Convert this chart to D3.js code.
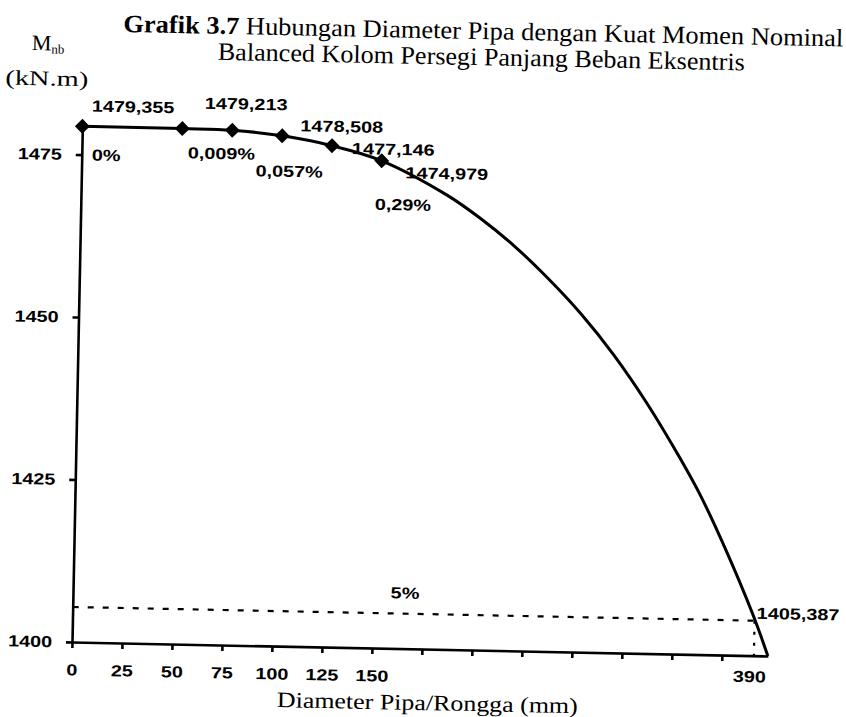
<!DOCTYPE html>
<html>
<head>
<meta charset="utf-8">
<script src="https://cdn.jsdelivr.net/npm/d3@7"></script>
<style>
body { margin: 0; background: #fff; }
.serif { font-family: "Liberation Serif", "Times New Roman", serif; fill: #000; }
.num { font-family: "Liberation Sans", Arial, sans-serif; font-weight: bold; font-size: 16px; fill: #000; }
.axis path, .axis line { stroke: #000; stroke-width: 2.6px; }
.axis text { font-family: "Liberation Sans", Arial, sans-serif; font-weight: bold; font-size: 16px; fill: #000; }
</style>
</head>
<body>
<script>

// measured points (diameter in mm, Mnb in kN.m)
var diameters = [0, 50, 75, 100, 125, 150];
var momen = [1479.355, 1479.32, 1479.213, 1478.508, 1477.146, 1474.979];
var valueLabels = ["1479,355", "", "1479,213", "1478,508", "1477,146", "1474,979"];
var pctLabels = ["0%", "", "0,009%", "0,057%", "", "0,29%"];

// extension of the curve
var trendX = [183, 200, 217, 234, 251, 268, 285, 302, 313, 325, 340, 348];
var trendY = [1469.9, 1466.4, 1462.3, 1457.5, 1452.1, 1445.8, 1438.5, 1430.2, 1424.3, 1416.8, 1406.4, 1400];

var xTicks = [0, 25, 50, 75, 100, 125, 150, 175, 200, 225, 250, 275, 300, 325];
var xLabelMax = 150;
var yTicks = [1400, 1425, 1450, 1475];

var limitValue = 1405.387, limitX = 341, limitXLabel = "390", limitPct = "5%";

var titleBold = "Grafik 3.7";
var titleRest = " Hubungan Diameter Pipa dengan Kuat Momen Nominal";
var title2 = "Balanced Kolom Persegi Panjang Beban Eksentris";
var xTitle = "Diameter Pipa/Rongga (mm)";

// label placement (px from the marker, start of text / baseline)
var valueOffsets = [[9, -15], null, [-28, -21], [18, -5], [20, 8], [24, 17]];
var pctOffsets = [[10, 34], null, [-44, 29], [-26, 41], null, [-6, 49]];
var sx = 1.24; // the scanned labels are wider than the font

var W = 846, H = 717;
var svg = d3.select("body").append("svg").attr("width", W).attr("height", H);

// the whole scan is turned a little clockwise
var g = svg.append("g").attr("transform", "rotate(1.15,72,642)");

var x = d3.scaleLinear().domain([0, 348]).range([72, 768]);
var y = d3.scaleLinear().domain([1400, 1479.355]).range([642, 126.2]);

function label(sel, px, py, txt, anchor) {
	return sel.append("text")
		.attr("class", "num")
		.attr("transform", "translate(" + px + "," + py + ") scale(" + sx + ",1)")
		.attr("text-anchor", anchor || "start")
		.text(txt);
}

// axes
var xAxis = g.append("g").attr("class", "axis")
	.attr("transform", "translate(0," + y(1400) + ")")
	.call(d3.axisBottom(x).tickValues(xTicks).tickSize(6).tickSizeOuter(0).tickPadding(16)
		.tickFormat(function(d) { return d <= xLabelMax ? d : ""; }));
xAxis.selectAll("text").attr("transform", "scale(" + sx + ",1)");

var yAxis = g.append("g").attr("class", "axis")
	.attr("transform", "translate(" + x(0) + ",0)")
	.call(d3.axisLeft(y).tickValues(yTicks).tickSize(6).tickSizeOuter(0).tickPadding(10)
		.tickFormat(d3.format("d")));
yAxis.selectAll("text").attr("transform", "scale(" + sx + ",1)");

// 5% line
g.append("line")
	.attr("x1", x(0)).attr("x2", x(limitX))
	.attr("y1", y(limitValue)).attr("y2", y(limitValue))
	.attr("stroke", "#000").attr("stroke-width", 2.2)
	.attr("stroke-dasharray", "6,9");
g.append("line")
	.attr("x1", x(limitX)).attr("x2", x(limitX))
	.attr("y1", y(limitValue)).attr("y2", y(1400))
	.attr("stroke", "#000").attr("stroke-width", 2.2)
	.attr("stroke-dasharray", "3,8");

// curve
var pts = d3.zip(diameters.concat(trendX), momen.concat(trendY));
var line = d3.line()
	.x(function(d) { return x(d[0]); })
	.y(function(d) { return y(d[1]); })
	.curve(d3.curveCatmullRom.alpha(0.5));
g.append("path")
	.datum(pts)
	.attr("fill", "none")
	.attr("stroke", "#000")
	.attr("stroke-width", 3)
	.attr("d", line);

// markers
g.selectAll("path.mk")
	.data(d3.zip(diameters, momen))
	.join("path")
	.attr("class", "mk")
	.attr("d", d3.symbol(d3.symbolSquare, 112))
	.attr("transform", function(d) { return "translate(" + x(d[0]) + "," + y(d[1]) + ") rotate(45)"; })
	.attr("fill", "#000");

// point labels
diameters.forEach(function(d, i) {
	var px = x(d), py = y(momen[i]);
	if (valueLabels[i]) label(g, px + valueOffsets[i][0], py + valueOffsets[i][1], valueLabels[i]);
	if (pctLabels[i]) label(g, px + pctOffsets[i][0], py + pctOffsets[i][1], pctLabels[i]);
});

label(g, x(166), y(limitValue) - 15, limitPct, "middle");
label(g, x(limitX) + 2, y(limitValue) - 2, limitValue.toFixed(3).replace(".", ","));
label(g, x(limitX) - 4, y(1400) + 26.5, limitXLabel, "middle");

// titles
var t1 = g.append("text").attr("class", "serif")
	.attr("x", 111).attr("y", 31)
	.attr("font-size", 25)
	.attr("textLength", 720).attr("lengthAdjust", "spacingAndGlyphs");
t1.append("tspan").attr("font-weight", "bold").text(titleBold);
t1.append("tspan").text(titleRest);

g.append("text").attr("class", "serif")
	.attr("x", 206).attr("y", 57)
	.attr("font-size", 25)
	.attr("textLength", 527).attr("lengthAdjust", "spacingAndGlyphs")
	.text(title2);

var m = g.append("text").attr("class", "serif")
	.attr("x", 20).attr("y", 51).attr("font-size", 22);
m.append("tspan").text("M");
m.append("tspan").attr("font-size", 13).attr("dy", 3).text("nb");

g.append("text").attr("class", "serif")
	.attr("x", -6).attr("y", 86).attr("font-size", 21)
	.attr("textLength", 83).attr("lengthAdjust", "spacingAndGlyphs")
	.text("(kN.m)");

g.append("text").attr("class", "serif")
	.attr("x", 278).attr("y", 703).attr("font-size", 22)
	.attr("textLength", 301).attr("lengthAdjust", "spacingAndGlyphs")
	.text(xTitle);

</script>
</body>
</html>
